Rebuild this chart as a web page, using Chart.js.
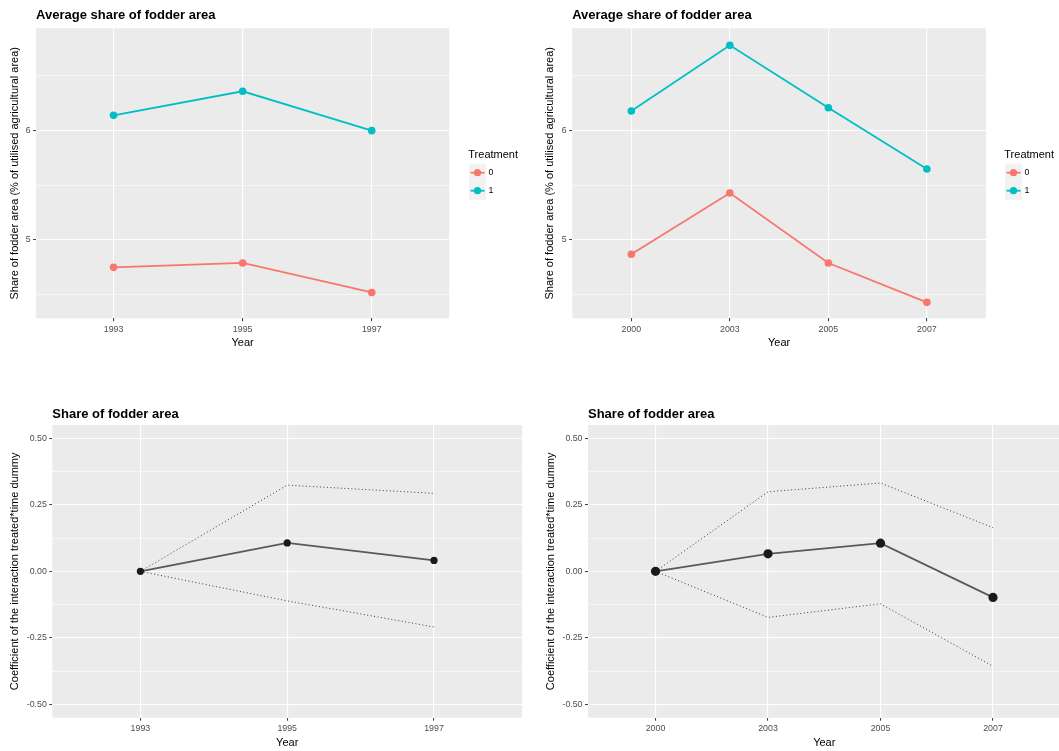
<!DOCTYPE html>
<html><head><meta charset="utf-8">
<script src="https://cdn.jsdelivr.net/npm/chart.js@4/dist/chart.umd.min.js"></script>
<style>
html,body{margin:0;padding:0;background:#fff;width:1059px;height:751px;overflow:hidden;position:relative}
canvas{position:absolute}
</style></head><body>
<canvas id="c1" width="530" height="360" style="left:0;top:0"></canvas>
<canvas id="c2" width="529" height="360" style="left:530px;top:0"></canvas>
<canvas id="c3" width="530" height="356" style="left:0;top:395px"></canvas>
<canvas id="c4" width="540" height="356" style="left:530px;top:395px"></canvas>
<script>
// ---- data ----
const years1 = ['1993', '1995', '1997'];
const years2 = ['2000', '2003', '2005', '2007'];
const treatmentLabels = ['0', '1'];
const share1Treat0 = [4.75, 4.79, 4.52];
const share1Treat1 = [6.14, 6.36, 6.00];
const share2Treat0 = [4.87, 5.43, 4.79, 4.43];
const share2Treat1 = [6.18, 6.78, 6.21, 5.65];
const coef1 = [0, 0.107, 0.041];
const upper1 = [0, 0.324, 0.293];
const lower1 = [0, -0.111, -0.209];
const coef2 = [0, 0.066, 0.106, -0.098];
const upper2 = [0, 0.299, 0.332, 0.164];
const lower2 = [0, -0.173, -0.122, -0.357];
const shareTickValues = [5, 6];
const shareTickLabels = ['5', '6'];
const shareMinorValues = [4.5, 5.5, 6.5];
const coefTickValues = [-0.5, -0.25, 0, 0.25, 0.5];
const coefTickLabels = ['-0.50', '-0.25', '0.00', '0.25', '0.50'];
const coefMinorValues = [-0.375, -0.125, 0.125, 0.375];

const FONT = '"Liberation Sans", Arial, sans-serif';
const RED = '#F8766D', CYAN = '#00BFC4';

const panelBg = {
  id: 'panelBg',
  beforeDraw(chart) {
    const a = chart.chartArea, c = chart.ctx;
    c.save(); c.fillStyle = '#EBEBEB';
    c.fillRect(a.left, a.top, a.right - a.left, a.bottom - a.top);
    c.restore();
  }
};

const ggLegend = {
  id: 'ggLegend',
  afterDraw(chart, args, o) {
    if (!o || !o.show) return;
    const c = chart.ctx;
    c.save();
    c.textBaseline = 'middle'; c.textAlign = 'left';
    c.fillStyle = '#000'; c.font = '11px ' + FONT;
    c.fillText(o.title, o.titleX, o.titleY);
    chart.data.datasets.forEach((ds, i) => {
      const cy = o.firstY + i * o.rowH;
      c.fillStyle = '#F2F2F2';
      c.fillRect(o.keyX, cy - o.rowH / 2, o.keyW, o.rowH);
      c.strokeStyle = ds.borderColor; c.lineWidth = 1.8;
      c.beginPath(); c.moveTo(o.keyX + 1.5, cy); c.lineTo(o.keyX + o.keyW - 1.5, cy); c.stroke();
      c.fillStyle = ds.borderColor;
      c.beginPath(); c.arc(o.keyX + o.keyW / 2, cy, 3.6, 0, Math.PI * 2); c.fill();
      c.fillStyle = '#000'; c.font = '8.8px ' + FONT;
      c.fillText(ds.label, o.labelX, cy);
    });
    c.restore();
  }
};

function pts(arr) { return arr.map((v, i) => ({ x: i, y: v })); }

function makeChart(id, p) {
  const isMajor = v => p.yMajor.indexOf(v) >= 0;
  return new Chart(document.getElementById(id), {
    type: 'line',
    data: { datasets: p.datasets },
    plugins: [panelBg, ggLegend],
    options: {
      responsive: false, animation: false, devicePixelRatio: 1,
      layout: { padding: { left: 0, top: 0, bottom: 0, right: p.W - p.R } },
      plugins: {
        legend: { display: false },
        tooltip: { enabled: false },
        title: {
          display: true, text: p.title, align: 'start', fullSize: false, color: '#000',
          font: { family: FONT, size: 13, weight: 'bold' },
          padding: { top: p.titleY - 7.8, bottom: p.T - 15.6 - (p.titleY - 7.8) }
        },
        ggLegend: p.legend || { show: false }
      },
      scales: {
        x: {
          type: 'linear', min: -0.6, max: p.cats.length - 1 + (p.xMaxPad || 0.6),
          afterBuildTicks: s => { s.ticks = p.cats.map((c, i) => ({ value: i })); },
          afterFit: s => { s.height = p.H - p.B; },
          ticks: {
            autoSkip: false, maxRotation: 0, minRotation: 0, padding: p.xTickPad,
            color: '#4D4D4D', font: { family: FONT, size: 8.8 },
            callback: v => p.cats[v]
          },
          grid: { color: '#FFFFFF', lineWidth: 1.1, drawTicks: true, tickLength: 3, tickColor: '#333333', tickWidth: 1 },
          border: { display: false },
          title: {
            display: true, text: 'Year', color: '#000', font: { family: FONT, size: 11 },
            padding: { top: 0, bottom: p.H - p.xTitleY - 6.6 }
          }
        },
        y: {
          type: 'linear', min: p.yMin, max: p.yMax,
          afterBuildTicks: s => { s.ticks = p.yMajor.concat(p.yMinor).sort((a, b) => a - b).map(v => ({ value: v })); },
          afterFit: s => { s.width = p.L; },
          ticks: {
            padding: 2.5, color: '#4D4D4D', font: { family: FONT, size: 8.8 },
            callback: v => { const i = p.yMajor.indexOf(v); return i >= 0 ? p.yMajorLabels[i] : ''; }
          },
          grid: {
            color: '#FFFFFF',
            lineWidth: ctx => (ctx.tick && isMajor(ctx.tick.value)) ? 1.1 : 0.55,
            drawTicks: true, tickLength: 3, tickWidth: 1,
            tickColor: ctx => (ctx.tick && isMajor(ctx.tick.value)) ? '#333333' : 'rgba(0,0,0,0)'
          },
          border: { display: false },
          title: {
            display: true, text: p.yTitle, color: '#000', font: { family: FONT, size: 11 },
            padding: { top: p.yTitleX - 6.6, bottom: 0 }
          }
        }
      }
    }
  });
}

function shareSets(t0, t1) {
  const mk = (lab, d, col) => ({
    label: lab, data: pts(d), borderColor: col, backgroundColor: col,
    borderWidth: 1.8, pointRadius: 3.8, pointBackgroundColor: col, pointBorderWidth: 0, tension: 0
  });
  return [mk(treatmentLabels[0], t0, RED), mk(treatmentLabels[1], t1, CYAN)];
}
function coefSets(c, u, l, r) {
  const dot = d => ({
    data: pts(d), borderColor: '#3a3a3a', borderWidth: 1, borderDash: [1, 2.5],
    pointRadius: 0, tension: 0
  });
  return [{
    data: pts(c), borderColor: '#595959', borderWidth: 1.8, pointRadius: r,
    pointBackgroundColor: '#1A1A1A', pointBorderWidth: 0, tension: 0
  }, dot(u), dot(l)];
}

const shareY = 'Share of fodder area (% of utilised agricultural area)';
const coefY = 'Coefficient of the interaction treated*time dummy';

makeChart('c1', {
  W: 530, H: 360, L: 36.1, R: 449.2, T: 28.3, B: 318.3, titleY: 15, yTitleX: 15.2, xTitleY: 343.3, xTickPad: 3,
  cats: years1, title: 'Average share of fodder area', yTitle: shareY,
  yMin: 4.284, yMax: 6.936, yMajor: shareTickValues, yMajorLabels: shareTickLabels, yMinor: shareMinorValues,
  datasets: shareSets(share1Treat0, share1Treat1),
  legend: { show: true, title: 'Treatment', titleX: 468.3, titleY: 155, keyX: 469, keyW: 17, firstY: 172.7, rowH: 18, labelX: 488.5 }
});
makeChart('c2', {
  W: 529, H: 360, L: 42.2, R: 456, T: 28.3, B: 318.3, titleY: 15, yTitleX: 20.2, xTitleY: 343.3, xTickPad: 3,
  cats: years2, title: 'Average share of fodder area', yTitle: shareY,
  yMin: 4.284, yMax: 6.936, yMajor: shareTickValues, yMajorLabels: shareTickLabels, yMinor: shareMinorValues,
  datasets: shareSets(share2Treat0, share2Treat1),
  legend: { show: true, title: 'Treatment', titleX: 474.3, titleY: 155, keyX: 475, keyW: 17, firstY: 172.7, rowH: 18, labelX: 494.5 }
});
makeChart('c3', {
  W: 530, H: 356, L: 52.3, R: 522.1, T: 30, B: 322.7, titleY: 19.3, yTitleX: 15.2, xTitleY: 347.7, xTickPad: 2.5,
  cats: years1, title: 'Share of fodder area', yTitle: coefY,
  yMin: -0.55, yMax: 0.55, yMajor: coefTickValues, yMajorLabels: coefTickLabels, yMinor: coefMinorValues,
  datasets: coefSets(coef1, upper1, lower1, 3.6)
});
makeChart('c4', {
  W: 540, H: 356, L: 58, R: 530.5, T: 30, B: 322.7, titleY: 19.3, yTitleX: 21, xTitleY: 347.7, xTickPad: 2.5,
  cats: years2, title: 'Share of fodder area', yTitle: coefY,
  yMin: -0.55, yMax: 0.55, yMajor: coefTickValues, yMajorLabels: coefTickLabels, yMinor: coefMinorValues,
  datasets: coefSets(coef2, upper2, lower2, 4.6)
});
</script>
</body></html>
